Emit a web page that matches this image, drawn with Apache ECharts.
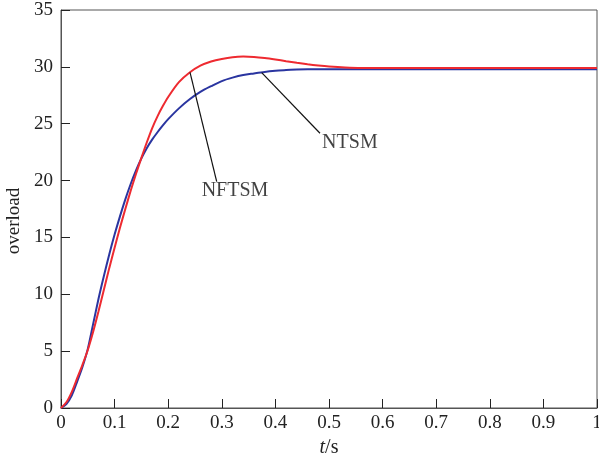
<!DOCTYPE html>
<html><head><meta charset="utf-8">
<script src="https://cdn.jsdelivr.net/npm/echarts@6/dist/echarts.min.js"></script>
<style>html,body{margin:0;padding:0;background:#fff}#c{width:599px;height:463px}</style>
</head><body><div id="c"></div>
<script>
const tValues = [0,0.01,0.02,0.03,0.04,0.05,0.06,0.07,0.08,0.09,0.10,0.11,0.12,0.13,0.14,0.15,0.16,0.17,0.18,0.19,0.20,0.22,0.24,0.26,0.28,0.30,0.32,0.34,0.36,0.38,0.40,0.42,0.44,0.46,0.48,0.50,0.53,0.56,0.6,0.7,0.8,0.9,1.0];
const ntsm = [0,0.35,1.1,2.3,3.6,5.2,7.4,9.6,11.6,13.5,15.25,16.85,18.35,19.7,20.9,21.95,22.85,23.6,24.25,24.85,25.4,26.35,27.15,27.8,28.3,28.75,29.05,29.28,29.42,29.55,29.65,29.73,29.77,29.79,29.8,29.8,29.8,29.8,29.8,29.8,29.8,29.8,29.8];
const nftsm = [0,0.5,1.4,2.6,3.8,5.1,6.7,8.5,10.4,12.3,14.1,15.85,17.5,19.1,20.6,22.0,23.35,24.6,25.65,26.55,27.35,28.65,29.5,30.1,30.47,30.7,30.85,30.9,30.87,30.78,30.65,30.5,30.36,30.23,30.12,30.03,29.94,29.9,29.9,29.9,29.9,29.9,29.9];
const annotNames = ['NFTSM','NTSM'];
const leaderFrom = [[0.2407,29.52],[0.3744,29.49]];
const leaderTo = [[0.2905,19.9],[0.4832,24.16]];
const labelAt = [[0.3246,19.1],[0.539,23.3]];

const font = '"Liberation Serif", "Times New Roman", serif';
const zip = (a,b)=>a.map((v,i)=>[v,b[i]]);
const chart = echarts.init(document.getElementById('c'));
chart.setOption({
  animation:false,
  backgroundColor:'#fff',
  grid:{left:61,right:2,top:10,bottom:55,containLabel:false,outerBoundsMode:'none',show:true,borderColor:'#555',borderWidth:1},
  xAxis:{type:'value',min:0,max:1,interval:0.1,
    name:'{i|t}/s',nameLocation:'middle',nameGap:28,
    nameTextStyle:{fontFamily:font,fontSize:20,color:'#222',rich:{i:{fontFamily:font,fontStyle:'italic',fontSize:20,color:'#222'}}},
    axisLine:{lineStyle:{color:'#555',width:1}},
    axisTick:{inside:true,length:9,lineStyle:{color:'#222'}},
    axisLabel:{fontFamily:font,fontSize:19,color:'#222',margin:6},
    splitLine:{show:false}},
  yAxis:{type:'value',min:0,max:35,interval:5,
    name:'overload',nameLocation:'middle',nameGap:36,
    nameTextStyle:{fontFamily:font,fontSize:19,color:'#222',padding:[0,24,0,0]},
    axisLine:{show:true,lineStyle:{color:'#555',width:1}},
    axisTick:{show:true,inside:true,length:9,lineStyle:{color:'#222'}},
    axisLabel:{fontFamily:font,fontSize:19,color:'#222',margin:8},
    splitLine:{show:false}},
  series:[
    {type:'line',name:'NTSM',data:zip(tValues,ntsm),smooth:0.3,showSymbol:false,symbol:'none',
      lineStyle:{color:'#2a35a0',width:2},z:3},
    {type:'line',name:'NFTSM',data:zip(tValues,nftsm),smooth:0.3,showSymbol:false,symbol:'none',
      lineStyle:{color:'#ee2a30',width:2},z:4},
    {type:'lines',coordinateSystem:'cartesian2d',polyline:false,silent:true,
      data:leaderFrom.map((p,i)=>({coords:[p,leaderTo[i]]})),
      lineStyle:{color:'#111',width:1.2,opacity:1},z:5},
    {type:'scatter',symbolSize:0,silent:true,
      data:labelAt.map((p,i)=>({value:p,name:annotNames[i]})),
      label:{show:true,position:'inside',formatter:p=>p.name,fontFamily:font,fontSize:20,color:'#111'},z:6}
  ]
});
</script></body></html>
